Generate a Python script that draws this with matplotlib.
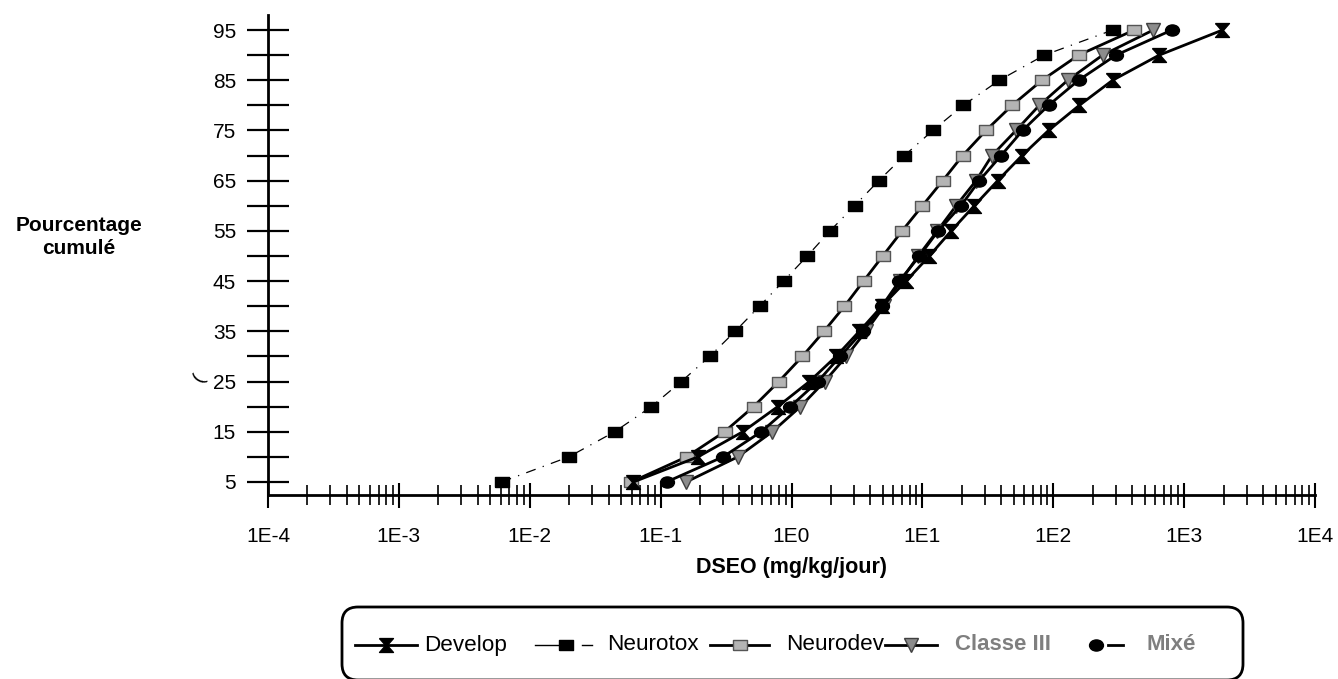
import numpy as np
import matplotlib
matplotlib.use("Agg")
import matplotlib.pyplot as plt
from matplotlib.path import Path
from matplotlib.lines import Line2D
from matplotlib.patches import FancyBboxPatch
from matplotlib.ticker import FixedLocator, LogLocator, NullFormatter, FuncFormatter

plt.rcParams['font.family'] = ['Liberation Sans', 'DejaVu Sans']

# cumulative percentage levels (same for every series)
pct = [5, 10, 15, 20, 25, 30, 35, 40, 45, 50, 55, 60, 65, 70, 75, 80, 85, 90, 95]

# DSEO values (mg/kg/jour)
develop = [0.062, 0.193, 0.425, 0.785, 1.37, 2.19, 3.30, 4.9, 7.5, 11.3, 16.6, 24.9,
           37.6, 57.7, 92, 158, 284, 644, 1963]
neurotox = [0.0061, 0.0199, 0.0446, 0.085, 0.144, 0.237, 0.371, 0.570, 0.869, 1.32,
            1.97, 3.03, 4.64, 7.29, 12.0, 20.5, 38.7, 85.4, 284]
neurodev = [0.0597, 0.158, 0.308, 0.513, 0.80, 1.21, 1.77, 2.54, 3.55, 4.98, 7.0, 10.0,
            14.3, 20.3, 30.6, 48.4, 82, 156, 415]
classe3 = [0.157, 0.389, 0.713, 1.17, 1.79, 2.62, 3.7, 5.1, 6.8, 9.3, 13.0, 18.1,
           25.7, 34.0, 51.9, 78.2, 129, 238, 580]
mixe = [0.111, 0.30, 0.587, 0.977, 1.59, 2.35, 3.5, 4.9, 6.67, 9.5, 13.2, 19.7,
        27.2, 39.9, 58.3, 92, 156, 301, 805]

series_names = ['Develop', 'Neurotox', 'Neurodev', 'Classe III', 'Mixé']

x_ticks = [1e-4, 1e-3, 1e-2, 1e-1, 1e0, 1e1, 1e2, 1e3, 1e4]
x_labels = ['1E-4', '1E-3', '1E-2', '1E-1', '1E0', '1E1', '1E2', '1E3', '1E4']

# custom marker shapes
hourglass = Path([(-1, 1), (1, 1), (0.12, 0), (1, -1), (-1, -1), (-0.12, 0), (-1, 1)])
rect = Path([(-1.3, -1), (1.3, -1), (1.3, 1), (-1.3, 1), (-1.3, -1)])
oval = Path.unit_circle().transformed(matplotlib.transforms.Affine2D().scale(1.25, 1.0))

styles = [
    dict(color='black', lw=2, marker=hourglass, ms=10, mfc='black', mec='black', zorder=5),
    dict(color='black', lw=0.9, ls=(0, (8, 6, 1, 6)), marker=rect, ms=10,
         mfc='black', mec='black', zorder=4),
    dict(color='black', lw=2, marker=rect, ms=10, mfc='#b4b4b4', mec='#555555', mew=1, zorder=4),
    dict(color='black', lw=2, marker='v', ms=10, mfc='#8c8c8c', mec='#404040', mew=1, zorder=3),
    dict(color='black', lw=2, marker=oval, ms=10, mfc='black', mec='black', zorder=4),
]

W, H = 1338.0, 679.0
fig = plt.figure(figsize=(W / 100, H / 100), dpi=100)
ax = fig.add_axes([268 / W, 1 - 495 / H, (1315 - 268) / W, (495 - 15) / H])

for xs, name, st in zip([develop, neurotox, neurodev, classe3, mixe], series_names, styles):
    ax.plot(xs, pct, label=name, **st)

ax.set_xscale('log')
ax.set_xlim(1e-4, 1e4)
ax.set_ylim(2.4, 98)

ax.xaxis.set_major_locator(FixedLocator(x_ticks))
ax.xaxis.set_major_formatter(FuncFormatter(lambda v, p: x_labels[p] if p is not None and p < len(x_labels) else ''))
ax.xaxis.set_minor_locator(LogLocator(base=10, subs=np.arange(2, 10), numticks=20))
ax.xaxis.set_minor_formatter(NullFormatter())

ax.yaxis.set_major_locator(FixedLocator(list(range(5, 96, 10))))
ax.yaxis.set_minor_locator(FixedLocator(list(range(10, 96, 10))))

for s in ['top', 'right']:
    ax.spines[s].set_visible(False)
for s in ['left', 'bottom']:
    ax.spines[s].set_linewidth(2)

ax.tick_params(axis='x', which='major', direction='inout', length=18, width=1.5,
               pad=14, labelsize=15)
ax.tick_params(axis='x', which='minor', direction='inout', length=14, width=1.2)
ax.tick_params(axis='y', which='both', direction='inout', length=30, width=1.6,
               pad=8, labelsize=15)

ax.set_xlabel('DSEO (mg/kg/jour)', fontsize=15.5, fontweight='bold', labelpad=8)
fig.text(79 / W, 1 - 237 / H, 'Pourcentage\ncumulé', ha='center', va='center',
         fontsize=15, fontweight='bold', linespacing=1.25)
fig.text(199 / W, 1 - 378 / H, '(', ha='center', va='center', fontsize=14, rotation=60)

# hand-laid legend box, matching the uneven spacing of the original
px = fig.dpi_scale_trans
def P(v):
    return v / 100.0

box = FancyBboxPatch((P(342), P(H - 680)), P(1243 - 342), P(680 - 607),
                     boxstyle='round,pad=0,rounding_size=0.16', transform=px,
                     fc='white', ec='black', lw=2, clip_on=False)
fig.patches.append(box)

# (line start, line end, marker x, text x) in pixels for each legend entry
leg_layout = [(355, 417, 386, 424), (535, 560, 566, 607), (710, 769, 740, 786),
              (885, 937, 911, 955), (1108, 1123, 1096, 1147)]
yc = P(H - 645)
for (x0, x1, xm, xt), name, st in zip(leg_layout, series_names, styles):
    lst = dict(st)
    lst.pop('zorder')
    fig.add_artist(Line2D([P(x0), P(x1)], [yc, yc], transform=px, color='black',
                          lw=lst['lw'] if name != 'Neurotox' else 1.0))
    if name == 'Neurotox':
        fig.add_artist(Line2D([P(582), P(592)], [yc, yc], transform=px, color='black', lw=1.0))
    fig.add_artist(Line2D([P(xm)], [yc], transform=px, ls='none', marker=lst['marker'],
                          ms=lst['ms'], mfc=lst['mfc'], mec=lst['mec'], mew=lst.get('mew', 1)))
    if name in ('Classe III', 'Mixé'):
        fig.text(P(xt), yc, name, transform=px, ha='left', va='center', fontsize=16,
                 fontweight='bold', color='#7f7f7f')
    else:
        fig.text(P(xt), yc, name, transform=px, ha='left', va='center', fontsize=16.2,
                 color='black')

fig.savefig('out.png', dpi=100)
